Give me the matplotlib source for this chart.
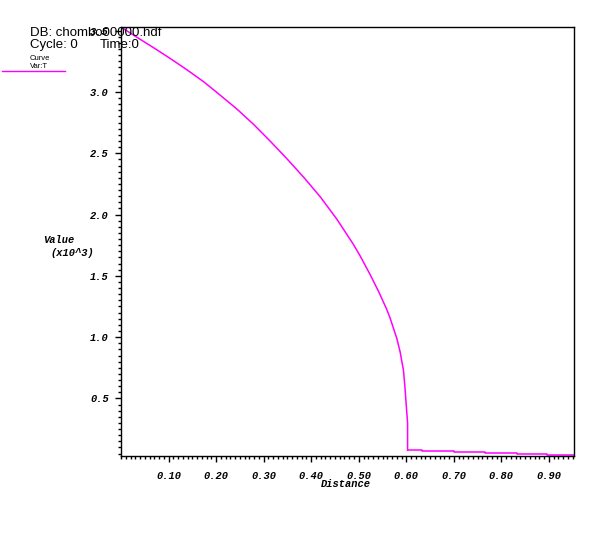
#!/usr/bin/python
# temperature profile along a line, VisIt style curve plot
import numpy as np
import matplotlib
matplotlib.use('Agg')
import matplotlib.pyplot as plt
from matplotlib.ticker import MultipleLocator

# smooth part of the profile (values in units of 10^3)
dist = [0.0, 0.034, 0.069, 0.104, 0.139, 0.174, 0.202, 0.244, 0.279, 0.314,
        0.349, 0.384, 0.419, 0.454, 0.489, 0.503, 0.524, 0.542, 0.559, 0.566,
        0.580, 0.587, 0.594, 0.597, 0.6015, 0.6027, 0.6027]
value = [3.53, 3.445, 3.36, 3.272, 3.18, 3.083, 2.995, 2.86, 2.735, 2.598,
         2.455, 2.305, 2.145, 1.962, 1.755, 1.662, 1.51, 1.37, 1.225, 1.155,
         0.99, 0.88, 0.73, 0.60, 0.36, 0.30, 0.077]

# stepped tail after the front
tailDist = [0.6027, 0.633, 0.700, 0.766, 0.833, 0.896, 0.953]
tailValue = [0.077, 0.069, 0.061, 0.053, 0.045, 0.037, 0.037]

xTicks = [0.1, 0.2, 0.3, 0.4, 0.5, 0.6, 0.7, 0.8, 0.9]
yTicks = [0.5, 1.0, 1.5, 2.0, 2.5, 3.0, 3.5]

col = '#ff00ff'
tickFont = {'family': 'Liberation Mono', 'weight': 'bold', 'style': 'italic', 'size': 7.5}

fig = plt.figure(figsize=(6.05, 5.37), dpi=100)
ax = fig.add_axes([0.2, 0.151, 0.749, 0.7987])

ax.plot(dist, value, color=col, lw=1.1)
ax.plot(tailDist, tailValue, color=col, lw=1.1, drawstyle='steps-post')

ax.set_xlim(0.0, 0.953)
ax.set_ylim(0.031, 3.53)

ax.set_xticks(xTicks)
ax.set_yticks(yTicks)
ax.xaxis.set_minor_locator(MultipleLocator(0.01))
ax.yaxis.set_minor_locator(MultipleLocator(0.05))
ax.set_xticklabels(['%.2f' % t for t in xTicks], fontdict=tickFont)
ax.set_yticklabels(['%.1f' % t for t in yTicks], fontdict=tickFont)

ax.tick_params(which='major', direction='out', length=4.3, width=1, pad=6.5, colors='black')
ax.tick_params(axis='y', which='major', pad=4.5)
ax.tick_params(which='minor', direction='out', length=2.2, width=1)
for s in ax.spines.values():
    s.set_linewidth(1)

fig.text(346/605, 1-484/537, 'Distance', ha='center', va='center', fontdict=tickFont)
fig.text(43/605, 1-240/537, 'Value', ha='left', va='center', fontdict=tickFont)
fig.text(50/605, 1-253/537, '(x10^3)', ha='left', va='center', fontdict=tickFont)

# header text
hdr = {'family': 'Liberation Sans', 'size': 9.5}
fig.text(30/605, 1-33/537, 'DB: chombo00000.hdf', ha='left', va='center', fontdict=hdr)
fig.text(30/605, 1-45/537, 'Cycle: 0', ha='left', va='center', fontdict=hdr)
fig.text(100/605, 1-45/537, 'Time:0', ha='left', va='center', fontdict=hdr)
small = {'family': 'Liberation Sans', 'size': 5.5}
fig.text(30/605, 1-59/537, 'Curve', ha='left', va='center', fontdict=small)
fig.text(30/605, 1-66/537, 'Var:T', ha='left', va='center', fontdict=small)
fig.add_artist(plt.Line2D([2/605, 65/605], [1-71/537, 1-71/537], color=col, lw=1))

fig.savefig('out.png', dpi=100)
